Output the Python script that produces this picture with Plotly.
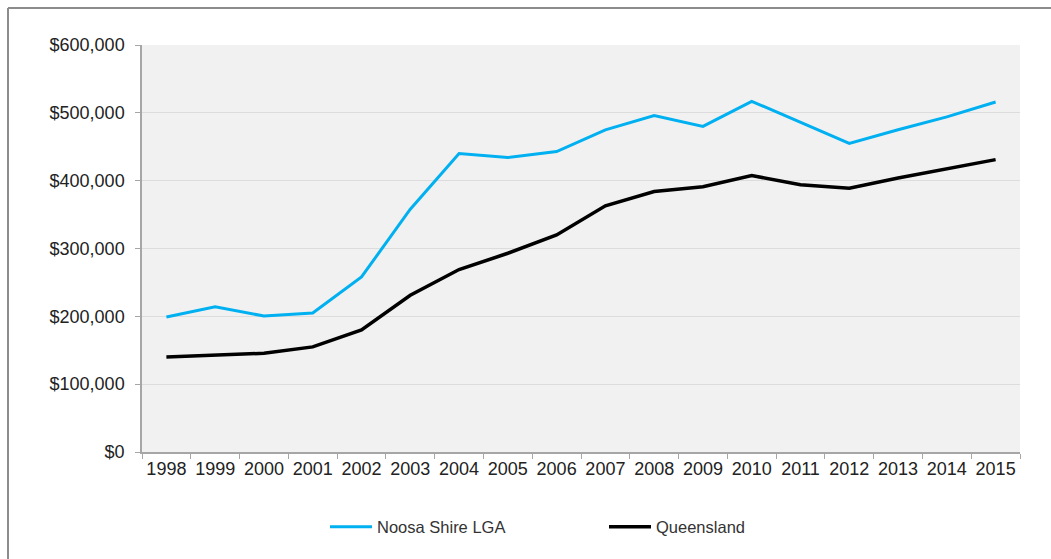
import plotly.graph_objects as go

years = [str(y) for y in range(1998, 2016)]
noosa = [199000, 214000, 200500, 205000, 258000, 358000, 440000, 434000, 443000,
         475000, 496000, 480000, 517000, 486000, 455000, 475000, 494000, 516000]
queensland = [140000, 143000, 145500, 155000, 180000, 231000, 269000, 293000, 320000,
              363000, 384000, 391000, 407500, 394000, 389000, 404000, 418000, 431000]
y_ticks = [0, 100000, 200000, 300000, 400000, 500000, 600000]
y_labels = ["$0", "$100,000", "$200,000", "$300,000", "$400,000", "$500,000", "$600,000"]

FONT = "Liberation Sans, Arial, sans-serif"

fig = go.Figure()
fig.add_trace(go.Scatter(x=years, y=noosa, name="Noosa Shire LGA", mode="lines",
                         line=dict(color="#00b0f0", width=3)))
fig.add_trace(go.Scatter(x=years, y=queensland, name="Queensland", mode="lines",
                         line=dict(color="#000000", width=3.5)))

# plot-area geometry in pixels (used for the outer frame lines and legend)
L, R, T, B = 142, 1020, 45, 452
W, H = R - L, B - T
def px(x):
    return (x - L) / W
def py(y):
    return (B - y) / H

frame = dict(color="#8c8c8c", width=2)
fig.add_shape(type="line", xref="paper", yref="paper",
              x0=px(8), x1=px(1070), y0=py(8), y1=py(8), line=frame)
fig.add_shape(type="line", xref="paper", yref="paper",
              x0=px(8), x1=px(8), y0=py(8), y1=py(580), line=frame)

fig.update_layout(
    width=1051, height=559,
    margin=dict(l=L, r=1051 - R, t=T, b=559 - B),
    paper_bgcolor="white",
    plot_bgcolor="#f1f1f1",
    font=dict(family=FONT, size=16, color="#222222"),
    showlegend=True,
    legend=dict(orientation="h", x=px(325), xanchor="left", y=py(527), yanchor="middle",
                font=dict(size=16.5, color="#333333"),
                entrywidth=222, entrywidthmode="pixels", itemwidth=42),
)
fig.update_xaxes(type="category", range=[-0.5, len(years) - 0.5], showgrid=False,
                 showline=True, linecolor="#a6a6a6", linewidth=1.5, ticks="outside",
                 tickson="boundaries", ticklen=5, tickcolor="#a6a6a6", tickangle=0,
                 tickfont=dict(size=18), fixedrange=True)
fig.update_yaxes(range=[0, 600000], tickmode="array", tickvals=y_ticks, ticktext=y_labels,
                 showgrid=True, gridcolor="#dcdcdc", gridwidth=1, showline=True,
                 linecolor="#a6a6a6", linewidth=1.5, ticks="outside", ticklen=5,
                 tickcolor="#a6a6a6", tickfont=dict(size=18), ticklabelstandoff=7,
                 zeroline=False, fixedrange=True)

fig.write_html("out.html")
